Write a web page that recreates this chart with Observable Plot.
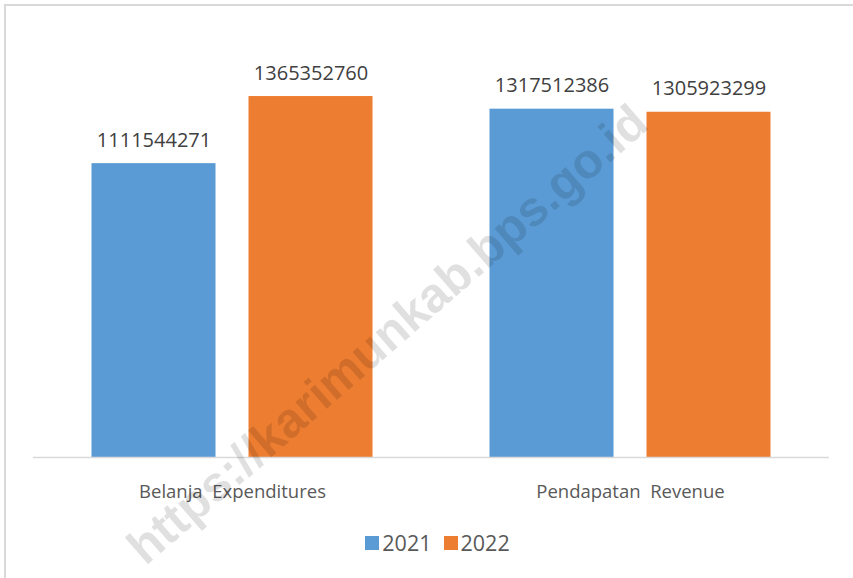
<!DOCTYPE html>
<html><head><meta charset="utf-8">
<script src="https://cdn.jsdelivr.net/npm/d3@7"></script>
<script src="https://cdn.jsdelivr.net/npm/@observablehq/plot@0.6"></script>
<style>
body{margin:0;background:#fff;font-family:"Open Sans",sans-serif;}
#wrap{position:relative;width:853px;height:578px;overflow:hidden;background:#fff;}
#frame{position:absolute;left:4px;top:4px;width:849px;height:574px;border-left:2px solid #d9d9d9;border-top:2px solid #d9d9d9;box-sizing:border-box;}
#chart{position:absolute;left:0;top:0;}
#legend{position:absolute;left:11px;top:528px;width:853px;text-align:center;font-size:21.5px;color:#595959;display:flex;justify-content:center;gap:0;}
#legend span.item{display:inline-flex;align-items:center;margin:0 6px;}
#legend span.sw{display:inline-block;width:14px;height:14px;margin-right:3px;}
#wm{position:absolute;left:387px;top:334px;transform:translate(-50%,-50%) rotate(-41deg);white-space:nowrap;font-family:"Liberation Sans",Arial,sans-serif;font-weight:bold;font-size:49px;color:rgba(0,0,0,0.12);pointer-events:none;}
</style>
</head><body>
<div id="wrap"><div id="frame"></div><div id="chart"></div><div id="legend"></div><div id="wm">https://karimunkab.bps.go.id</div></div>
<script>
const categories = ["Belanja\u00a0 Expenditures", "Pendapatan\u00a0 Revenue"];
const years = ["2021", "2022"];
const values2021 = [1111544271, 1317512386];
const values2022 = [1365352760, 1305923299];
const colors = ["#5b9bd5", "#ed7d31"];

const data = categories.flatMap((c, i) => [
  {category: c, year: years[0], value: values2021[i]},
  {category: c, year: years[1], value: values2022[i]}
]);

const chart = Plot.plot({
  width: 853,
  height: 515,
  marginLeft: 32.5,
  marginRight: 24.5,
  marginTop: 34,
  marginBottom: 58,
  style: {color: "#595959", background: "transparent", fontFamily: "'Open Sans', sans-serif"},
  fx: {domain: categories, padding: 0, label: null, axis: null},
  x: {domain: years, paddingInner: 0.209, paddingOuter: 0.364, axis: null},
  y: {domain: [0, 1.6e9], axis: null},
  color: {domain: years, range: colors},
  marks: [
    Plot.barY(data, {fx: "category", x: "year", y: "value", fill: "year"}),
    Plot.text(data, {fx: "category", x: "year", y: "value", text: d => String(d.value), lineAnchor: "bottom", dy: -17, fontSize: 20, fill: "#404040"}),
    Plot.ruleY([0], {stroke: "#d9d9d9", strokeWidth: 1.5}),
    Plot.axisFx({anchor: "bottom", tickSize: 0, tickPadding: 27, fontSize: 18.5, label: null})
  ]
});
document.getElementById("chart").appendChild(chart);

const legend = document.getElementById("legend");
years.forEach((y, i) => {
  const item = document.createElement("span");
  item.className = "item";
  const sw = document.createElement("span");
  sw.className = "sw";
  sw.style.background = colors[i];
  item.appendChild(sw);
  item.appendChild(document.createTextNode(y));
  legend.appendChild(item);
});
</script>
</body></html>
